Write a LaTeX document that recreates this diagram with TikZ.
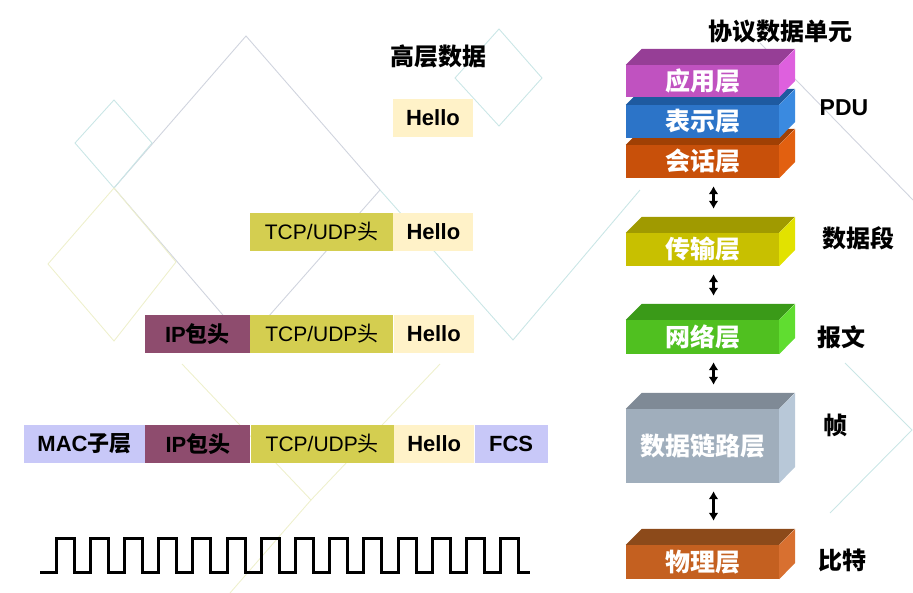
\documentclass[tikz,border=0pt]{standalone}
\usepackage{fontspec}
\setmainfont{Liberation Sans}
\newfontfamily\cjk{Noto Sans CJK SC}
\usetikzlibrary{arrows.meta, positioning}

% packet field colours
\definecolor{macfill}{RGB}{200,200,248}
\definecolor{ipfill}{RGB}{142,76,110}
\definecolor{tcpfill}{RGB}{212,206,80}
\definecolor{hellofill}{RGB}{255,242,200}
% layer colours: front, top, side
\definecolor{appF}{RGB}{192,82,192}
\definecolor{appT}{RGB}{150,62,150}
\definecolor{appS}{RGB}{222,96,222}
\definecolor{preF}{RGB}{44,116,200}
\definecolor{preT}{RGB}{30,90,160}
\definecolor{preS}{RGB}{58,138,224}
\definecolor{sesF}{RGB}{200,80,10}
\definecolor{sesT}{RGB}{160,64,4}
\definecolor{sesS}{RGB}{226,96,16}
\definecolor{traF}{RGB}{200,192,0}
\definecolor{traT}{RGB}{160,154,0}
\definecolor{traS}{RGB}{226,226,0}
\definecolor{netF}{RGB}{80,192,32}
\definecolor{netT}{RGB}{58,154,24}
\definecolor{netS}{RGB}{96,221,48}
\definecolor{dlkF}{RGB}{160,174,188}
\definecolor{dlkT}{RGB}{127,138,150}
\definecolor{dlkS}{RGB}{184,200,216}
\definecolor{phyF}{RGB}{196,96,32}
\definecolor{phyT}{RGB}{140,74,26}
\definecolor{phyS}{RGB}{216,112,48}
% background lines
\definecolor{bggray}{RGB}{208,212,222}
\definecolor{bgteal}{RGB}{202,230,230}
\definecolor{bgyell}{RGB}{238,240,205}

\tikzset{
  field/.style={minimum height=38, inner sep=0pt, font=\fontsize{22}{24}\selectfont\bfseries},
  tcpfield/.style={field, fill=tcpfill, minimum width=143, font=\fontsize{21}{24}\selectfont},
  layer/.style={minimum width=153, inner sep=0pt, text=white, font=\cjk\bfseries\fontsize{25}{27}\selectfont},
  unit/.style={font=\cjk\bfseries\fontsize{24}{26}\selectfont},
  updown/.style={{Latex[length=8pt,width=10pt]}-{Latex[length=8pt,width=10pt]}, line width=2.6pt, shorten <=8pt, shorten >=8pt},
  wave/.style={line width=3pt},
  bgline/.style={line width=0.9pt}
}

% one 3D layer block: name, centre y, height, colour prefix, label
\newcommand{\osilayer}[5]{%
  \node[layer, fill=#4F, minimum height=#3] (#1) at (702.5,#2) {#5};
  \fill[#4T] (#1.north west) -- ++(16,-16) -- ++(153,0) -- (#1.north east) -- cycle;
  \fill[#4S] (#1.north east) -- ++(16,-16) -- ++(0,#3) -- (#1.south east) -- cycle;
}

\begin{document}
\begin{tikzpicture}[x=1pt, y=-1pt]
  \useasboundingbox (0,0) rectangle (913,593);

  % Background
  \draw[bgline, bggray] (246,36) -- (380,190) -- (246,342) -- (114,188) -- cycle;
  \draw[bgline, bgteal] (114,100) -- (152,143) -- (114,188) -- (75,143) -- cycle;
  \draw[bgline, bgyell] (114,188) -- (176,262) -- (114,341) -- (48,264) -- cycle;
  \draw[bgline, bgteal] (499,29) -- (542,78) -- (499,126) -- (455,78) -- cycle;
  \draw[bgline, bgteal] (380,190) -- (513,340) -- (640,190);
  \draw[bgline, bgyell] (182,364) -- (311,500) -- (440,364);
  \draw[bgline, bgyell] (311,500) -- (230,593);
  \draw[bgline, bggray] (760,43) -- (913,200);
  \draw[bgline, bgteal] (845,363) -- (912,430) -- (830,513);

  % Titles
  \node[unit] (hdata) at (438,56) {高层数据};
  \node[unit] (pdutitle) at (780,32) {协议数据单元};

  % Packets
  \node[field, fill=hellofill, minimum width=80] (hello1) at (433,118) {Hello};

  \node[tcpfield] (tcp2) at (321.5,232) {TCP/UDP{\cjk 头}};
  \node[field, fill=hellofill, minimum width=80, right=0pt of tcp2] (hello2) {Hello};

  \node[field, fill=ipfill, minimum width=105] (ip3) at (197.5,334) {IP{\cjk 包头}};
  \node[tcpfield, right=0pt of ip3] (tcp3) {TCP/UDP{\cjk 头}};
  \node[field, fill=hellofill, minimum width=80, right=0pt of tcp3] (hello3) {Hello};

  \node[field, fill=macfill, minimum width=121] (mac4) at (84.5,444) {MAC{\cjk 子层}};
  \node[field, fill=ipfill, minimum width=105, right=0pt of mac4] (ip4) {IP{\cjk 包头}};
  \node[tcpfield, right=0pt of ip4] (tcp4) {TCP/UDP{\cjk 头}};
  \node[field, fill=hellofill, minimum width=80, right=0pt of tcp4] (hello4) {Hello};
  \node[field, fill=macfill, minimum width=73, right=0pt of hello4] (fcs4) {FCS};

  % Bit stream
  \draw[wave] (40,572) foreach \i in {0,...,13} {
    -- ({56+34.2*\i},572) -- ({56+34.2*\i},538) -- ({74+34.2*\i},538) -- ({74+34.2*\i},572)
  } -- (530,572);

  % Layer stack
  \osilayer{ses}{161.5}{33}{ses}{会话层}
  \osilayer{pre}{121.5}{33}{pre}{表示层}
  \osilayer{app}{81}{32}{app}{应用层}
  \osilayer{tra}{249.5}{33}{tra}{传输层}
  \osilayer{net}{337}{34}{net}{网络层}
  \osilayer{dlk}{446}{74}{dlk}{数据链路层}
  \osilayer{phy}{562}{34}{phy}{物理层}

  \draw[updown] ([xshift=11pt]ses.south) -- ([xshift=11pt,yshift=16pt]tra.north);
  \draw[updown] ([xshift=11pt]tra.south) -- ([xshift=11pt,yshift=16pt]net.north);
  \draw[updown] ([xshift=11pt]net.south) -- ([xshift=11pt,yshift=16pt]dlk.north);
  \draw[updown] ([xshift=11pt]dlk.south) -- ([xshift=11pt,yshift=16pt]phy.north);

  % Units
  \node[unit, font=\fontsize{23}{26}\selectfont\bfseries] (pdu) at (844,108) {PDU};
  \node[unit] (seg) at (858,238) {数据段};
  \node[unit] (pkt) at (841,337) {报文};
  \node[unit] (frm) at (835,425) {帧};
  \node[unit] (bit) at (842,560) {比特};
\end{tikzpicture}
\end{document}
